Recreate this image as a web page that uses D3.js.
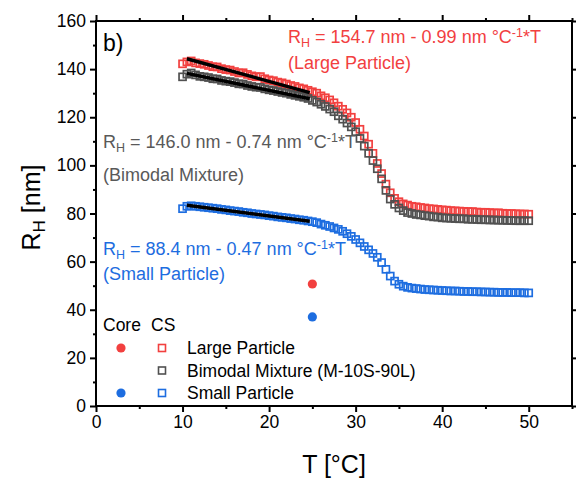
<!DOCTYPE html>
<html>
<head>
<meta charset="utf-8">
<script src="https://cdn.jsdelivr.net/npm/d3@7/dist/d3.min.js"></script>
<style>
  html, body { margin: 0; padding: 0; background: #fff; }
  svg { display: block; font-family: "Liberation Sans", Arial, sans-serif; }
</style>
</head>
<body>
<svg id="chart" width="576" height="479"></svg>
<script>
// Temperature grid of the DLS ramp (°C)
const temps = d3.range(10, 50.01, 0.5);

// Hydrodynamic radius R_H (nm) of the core-shell particles
const largeCS = [
  142.2, 143.0, 143.4, 142.6, 142.3, 142.0, 141.5, 141.0, 140.9, 140.2,
  139.8, 139.6, 139.0, 138.4, 138.5, 137.8, 137.2, 136.8, 136.9, 136.0,
  135.5, 135.2, 134.6, 134.3, 133.8, 133.2, 132.8, 132.2, 131.8, 131.2,
  130.6, 130.0, 128.9, 128.1, 127.2, 126.0, 124.6, 123.3, 121.8, 120.0,
  117.8, 115.0, 112.2, 108.8, 105.0, 100.8, 96.6, 92.2, 88.6, 86.3,
  84.9, 84.0, 83.5, 83.0, 82.8, 82.5, 82.3, 82.0, 81.9, 81.7,
  81.5, 81.4, 81.2, 81.1, 81.0, 80.9, 80.8, 80.8, 80.6, 80.5,
  80.5, 80.4, 80.2, 80.3, 80.1, 80.0, 80.0, 79.9, 79.8, 79.8, 79.7
];
const bimodalCS = [
  136.8, 137.9, 138.4, 137.6, 137.0, 136.8, 136.5, 136.0, 135.9, 135.3,
  135.0, 134.8, 134.4, 133.9, 133.8, 133.2, 132.8, 132.5, 132.4, 131.8,
  131.4, 131.1, 130.7, 130.3, 130.0, 129.5, 129.1, 128.7, 128.3, 127.8,
  127.0, 126.3, 125.4, 124.5, 123.4, 122.3, 120.6, 119.2, 117.6, 116.0,
  114.0, 111.2, 108.0, 105.0, 102.0, 98.6, 94.4, 89.6, 86.0, 83.8,
  82.3, 81.2, 80.4, 80.0, 79.6, 79.4, 79.1, 78.9, 78.6, 78.5,
  78.2, 78.1, 78.0, 77.9, 77.8, 77.8, 77.6, 77.6, 77.5, 77.4,
  77.4, 77.3, 77.3, 77.2, 77.2, 77.1, 77.1, 77.0, 77.0, 77.0, 77.0
];
const smallCS = [
  82.0, 83.0, 83.2, 83.0, 82.8, 82.6, 82.4, 82.2, 82.0, 81.7,
  81.5, 81.2, 81.0, 80.8, 80.5, 80.3, 80.0, 79.8, 79.6, 79.4,
  79.1, 78.9, 78.6, 78.4, 78.2, 77.9, 77.7, 77.4, 77.2, 76.9,
  76.6, 76.2, 75.6, 75.1, 74.6, 74.0, 73.4, 72.6, 71.6, 70.5,
  69.2, 67.8, 66.3, 64.9, 63.4, 61.8, 59.6, 56.8, 54.0, 51.9,
  50.6, 49.8, 49.3, 49.0, 48.8, 48.6, 48.4, 48.3, 48.2, 48.1,
  48.0, 47.9, 47.8, 47.8, 47.7, 47.6, 47.6, 47.5, 47.5, 47.4,
  47.4, 47.3, 47.3, 47.2, 47.2, 47.2, 47.1, 47.1, 47.1, 47.0, 47.0
];

// Bare cores, measured at 25 °C
const coreTemp = 25;
const coreLarge = 50.7;
const coreSmall = 37.0;

// Linear fits R_H = a - b*T below the transition
const fitNames = ["Large Particle", "Bimodal Mixture", "Small Particle"];
const fitIntercepts = [154.7, 146.0, 88.4];
const fitSlopes = [0.99, 0.74, 0.47];
const fitRange = [10.5, 24.7];

// Axis ticks
const xMajor = [0, 10, 20, 30, 40, 50];
const xMinor = [5, 15, 25, 35, 45, 55];
const yMajor = [0, 20, 40, 60, 80, 100, 120, 140, 160];
const yMinor = [10, 30, 50, 70, 90, 110, 130, 150];

const RED = "#f2403f", GRAY = "#505050", BLUE = "#1d6de0";
const GRAY_TEXT = "#595959";

const svg = d3.select("#chart");
const L = 96, R = 572, T = 21, B = 406;
const x = d3.scaleLinear().domain([0, 55]).range([L, R]);
const y = d3.scaleLinear().domain([0, 160]).range([B, T]);

// ---- data markers (open squares) ----
const series = [
  { values: largeCS, color: RED },
  { values: bimodalCS, color: GRAY },
  { values: smallCS, color: BLUE }
];
const sq = 7;
series.forEach(s => {
  svg.append("g").selectAll("rect")
    .data(temps.map((t, i) => [t, s.values[i]]))
    .join("rect")
    .attr("x", d => x(d[0]) - sq / 2)
    .attr("y", d => y(d[1]) - sq / 2)
    .attr("width", sq).attr("height", sq)
    .attr("fill", "none")
    .attr("stroke", s.color)
    .attr("stroke-width", 1.7);
});

// ---- linear fits ----
const fitLine = d3.line().x(d => x(d[0])).y(d => y(d[1]));
fitIntercepts.forEach((a, i) => {
  const b = fitSlopes[i];
  svg.append("path")
    .attr("d", fitLine(fitRange.map(t => [t, a - b * t])))
    .attr("stroke", "#000").attr("stroke-width", 3.5)
    .attr("fill", "none");
});

// ---- core points ----
[[coreLarge, RED], [coreSmall, BLUE]].forEach(([v, c]) => {
  svg.append("circle")
    .attr("cx", x(coreTemp)).attr("cy", y(v)).attr("r", 4.6)
    .attr("fill", c);
});

// ---- axes ----
function styleAxis(g) {
  g.select(".domain").remove();
  g.selectAll("line").attr("stroke", "#000").attr("stroke-width", 2);
  g.selectAll("text").attr("fill", "#000")
    .style("font-family", "'Liberation Sans', Arial, sans-serif")
    .style("font-size", "17.5px");
}
svg.append("g").attr("transform", `translate(0,${B})`)
  .call(d3.axisBottom(x).tickValues(xMajor).tickSize(6).tickPadding(4).tickFormat(d3.format("d")))
  .call(styleAxis);
svg.append("g").attr("transform", `translate(0,${B})`)
  .call(d3.axisBottom(x).tickValues(xMinor).tickSize(3).tickFormat(""))
  .call(styleAxis);
svg.append("g").attr("transform", `translate(0,${T})`)
  .call(d3.axisTop(x).tickValues(xMajor).tickSize(6).tickFormat(""))
  .call(styleAxis);
svg.append("g").attr("transform", `translate(0,${T})`)
  .call(d3.axisTop(x).tickValues(xMinor).tickSize(3).tickFormat(""))
  .call(styleAxis);
svg.append("g").attr("transform", `translate(${L},0)`)
  .call(d3.axisLeft(y).tickValues(yMajor).tickSize(6).tickPadding(4).tickFormat(d3.format("d")))
  .call(styleAxis);
svg.append("g").attr("transform", `translate(${L},0)`)
  .call(d3.axisLeft(y).tickValues(yMinor).tickSize(3).tickFormat(""))
  .call(styleAxis);
svg.append("g").attr("transform", `translate(${R},0)`)
  .call(d3.axisRight(y).tickValues(yMajor).tickSize(6).tickFormat(""))
  .call(styleAxis);

// frame
svg.append("rect")
  .attr("x", L).attr("y", T).attr("width", R - L).attr("height", B - T)
  .attr("fill", "none").attr("stroke", "#000").attr("stroke-width", 2);

// ---- axis titles ----
svg.append("text")
  .attr("x", (L + R) / 2).attr("y", 473)
  .attr("text-anchor", "middle")
  .style("font-size", "25px")
  .text("T [°C]");

const yt = svg.append("text")
  .attr("transform", `translate(40,${(T + B) / 2 - 6}) rotate(-90)`)
  .attr("text-anchor", "middle")
  .style("font-size", "25px");
yt.append("tspan").text("R");
yt.append("tspan").attr("dy", 5).style("font-size", "17px").text("H");
yt.append("tspan").attr("dy", -5).text(" [nm]");

// panel label
svg.append("text").attr("x", 103).attr("y", 51)
  .style("font-size", "23px").text("b)");

// ---- fit equations ----
function equation(xp, yp, gap, a, b, color, name) {
  const t = svg.append("text").attr("x", xp).attr("y", yp)
    .attr("fill", color).style("font-size", "18px");
  t.append("tspan").text("R");
  t.append("tspan").attr("dy", 4).style("font-size", "12.5px").text("H");
  t.append("tspan").attr("dy", -4)
    .text(` = ${a.toFixed(1)} nm - ${b.toFixed(2)} nm °C`);
  t.append("tspan").attr("dy", -6).style("font-size", "12.5px").text("-1");
  t.append("tspan").attr("dy", 6).text("*T");
  svg.append("text").attr("x", xp).attr("y", yp + gap)
    .attr("fill", color).style("font-size", "18px")
    .text(`(${name})`);
}
equation(288, 43, 25.5, fitIntercepts[0], fitSlopes[0], RED, fitNames[0]);
equation(103, 148, 33, fitIntercepts[1], fitSlopes[1], GRAY_TEXT, fitNames[1]);
equation(103, 255, 25, fitIntercepts[2], fitSlopes[2], BLUE, fitNames[2]);

// ---- legend ----
const legendRows = [
  { label: "Large Particle", color: RED, core: true },
  { label: "Bimodal Mixture (M-10S-90L)", color: GRAY, core: false },
  { label: "Small Particle", color: BLUE, core: true }
];
const lg = svg.append("g").style("font-size", "17.5px");
lg.append("text").attr("x", 103).attr("y", 331).text("Core");
lg.append("text").attr("x", 151).attr("y", 331).text("CS");
legendRows.forEach((r, i) => {
  const cy = 348 + i * 22.5;
  if (r.core) {
    lg.append("circle").attr("cx", 121).attr("cy", cy).attr("r", 4.6).attr("fill", r.color);
  }
  lg.append("rect").attr("x", 162 - 3.5).attr("y", cy - 3.5)
    .attr("width", 7).attr("height", 7)
    .attr("fill", "none").attr("stroke", r.color).attr("stroke-width", 1.6);
  lg.append("text").attr("x", 187).attr("y", cy + 6).text(r.label);
});
</script>
</body>
</html>
